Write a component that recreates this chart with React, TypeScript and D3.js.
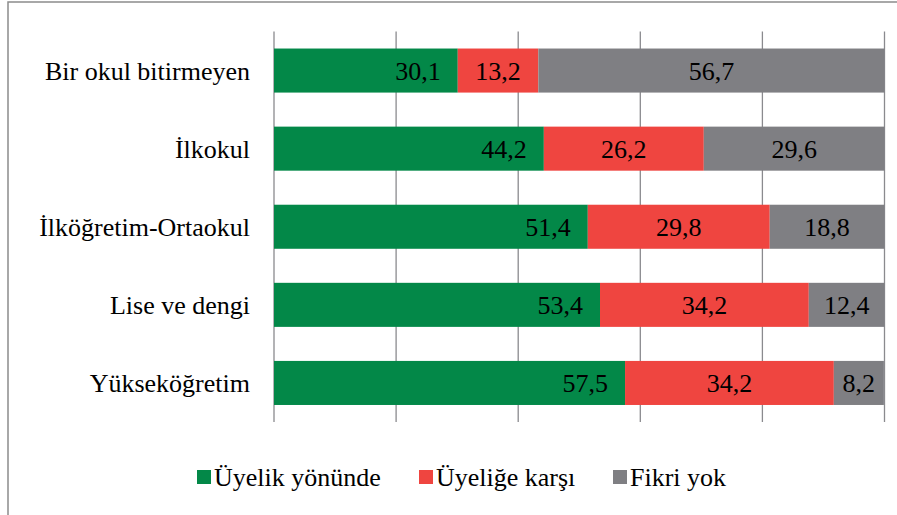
import * as d3 from "d3";

const categories = [
  "Bir okul bitirmeyen",
  "İlkokul",
  "İlköğretim-Ortaokul",
  "Lise ve dengi",
  "Yükseköğretim",
];
const seriesNames = ["Üyelik yönünde", "Üyeliğe karşı", "Fikri yok"];
const inFavour = [30.1, 44.2, 51.4, 53.4, 57.5];
const against = [13.2, 26.2, 29.8, 34.2, 34.2];
const noOpinion = [56.7, 29.6, 18.8, 12.4, 8.2];
const xTicks = [0, 20, 40, 60, 80, 100];

const colors = ["#038848", "#EF4540", "#7F7F83"];
const FONT = "Liberation Serif";
const legendX = [197, 419, 613];

const width = 897;
const height = 515;

const x = d3.scaleLinear().domain([0, 100]).range([274, 884.5]);
const y = d3
  .scaleBand()
  .domain(categories)
  .range([31.5, 422])
  .paddingInner(0.436)
  .paddingOuter(0.218);

const fmt = (v: number) => v.toFixed(1).replace(".", ",");

function App() {
  const rows = categories.map((c, i) => ({
    category: c,
    values: [inFavour[i], against[i], noOpinion[i]],
  }));

  return (
    <svg
      width={width}
      height={height}
      style={{ position: "absolute", left: 0, top: 0 }}
    >
      {/* chart border runs past the right and bottom edges */}
      <rect x={8} y={2} width={900} height={530} fill="#fff" stroke="#8c8c8c" strokeWidth={1.5} />

      {xTicks.map((t) => (
        <line key={t} x1={x(t)} x2={x(t)} y1={31.5} y2={422} stroke="#8a8a8e" strokeWidth={1.3} />
      ))}

      {rows.map((row) => {
        let start = 0;
        const by = y(row.category)!;
        const bh = y.bandwidth();
        return (
          <g key={row.category}>
            {row.values.map((v, s) => {
              const x0 = x(start);
              const x1 = x(start + v);
              start += v;
              return (
                <g key={s}>
                  <rect x={x0} y={by} width={x1 - x0} height={bh} fill={colors[s]} />
                  <text
                    x={s === 0 ? x1 - 17 : (x0 + x1) / 2}
                    y={by + bh / 2 + 9}
                    textAnchor={s === 0 ? "end" : "middle"}
                    fontFamily={FONT}
                    fontSize={26}
                    fill="#000"
                  >
                    {fmt(v)}
                  </text>
                </g>
              );
            })}
            <text
              x={250}
              y={by + bh / 2 + 9}
              textAnchor="end"
              fontFamily={FONT}
              fontSize={26}
              fill="#000"
            >
              {row.category}
            </text>
          </g>
        );
      })}

      {seriesNames.map((name, i) => (
        <g key={name} transform={`translate(${legendX[i]}, 0)`}>
          <rect x={0} y={470} width={14} height={14} fill={colors[i]} />
          <text x={17} y={486} fontFamily={FONT} fontSize={26} fill="#000">
            {name}
          </text>
        </g>
      ))}
    </svg>
  );
}

export default App;
